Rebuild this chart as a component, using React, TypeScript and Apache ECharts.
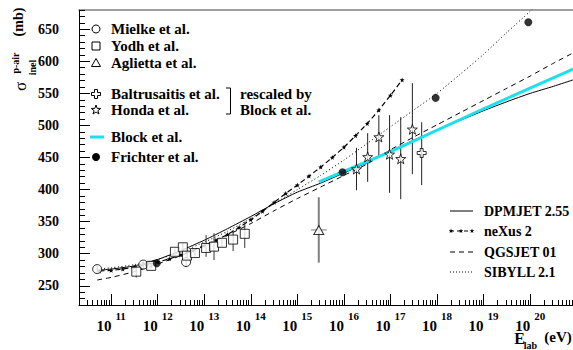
import React, { useEffect, useRef } from "react";
import * as echarts from "echarts";

const SERIF = "'Liberation Serif', 'DejaVu Serif', serif";

// Axis ranges (log10 of E in eV on x)
const X_MIN = 10.31;
const X_MAX = 20.92;
const Y_MIN = 220;
const Y_MAX = 680;
const xMajorTicks = [11, 12, 13, 14, 15, 16, 17, 18, 19, 20];
const yMajorTicks = [250, 300, 350, 400, 450, 500, 550, 600, 650];

// Mielke et al. (open circles)
const mielkeLogE = [10.7, 11.69, 12.61];
const mielkeSigma = [276, 283, 287];
const mielkeLo = [270, 278, 279];
const mielkeHi = [282, 288, 295];

// Yodh et al. (open squares)
const yodhLogE = [11.54, 11.86, 12.37, 12.54, 12.63, 12.8, 13.04, 13.21, 13.38, 13.62, 13.87];
const yodhSigma = [272, 281, 303, 310, 297, 301, 309, 311, 317, 322, 331];
const yodhLo = [263, 277, 298, 303, 291, 296, 295, 290, 311, 304, 309];
const yodhHi = [281, 285, 308, 317, 303, 306, 329, 332, 323, 337, 350];

// Aglietta et al. (open triangle)
const agliettaLogE = [15.46];
const agliettaSigma = [337];
const agliettaLo = [286];
const agliettaHi = [388];
const agliettaXLo = [15.29];
const agliettaXHi = [15.63];

// Baltrusaitis et al. (open cross)
const baltLogE = [17.67];
const baltSigma = [457];
const baltLo = [407];
const baltHi = [505];

// Honda et al. (open stars)
const hondaLogE = [16.27, 16.51, 16.75, 16.98, 17.22, 17.47];
const hondaSigma = [432, 451, 482, 455, 448, 494];
const hondaLo = [399, 412, 451, 395, 385, 424];
const hondaHi = [465, 488, 516, 516, 513, 566];

// Frichter et al. (filled circles)
const frichterLogE = [11.98, 15.97, 17.97, 19.96];
const frichterSigma = [285, 427, 543, 661];

// Block et al. (cyan)
const blockLogE = [15.46, 17.0, 19.0, 20.92];
const blockSigma = [412, 459, 526, 588];

// DPMJET 2.55
const dpmLogE = [10.7, 11, 11.5, 12, 12.5, 13, 13.5, 14, 14.5, 15, 15.5, 16, 16.5, 17, 17.5, 18, 18.5, 19, 19.5, 20, 20.5, 20.92];
const dpmSigma = [274, 276, 281, 291, 305, 321, 339, 358, 378, 396, 410, 426, 442, 460, 477, 493, 508, 523, 537, 550, 561, 571];

// QGSJET 01
const qgsLogE = [10.7, 11, 11.5, 12, 12.5, 13, 13.5, 14, 14.5, 15, 15.5, 16, 16.5, 17, 17.5, 18, 18.5, 19, 19.5, 20, 20.5, 20.92];
const qgsSigma = [259, 263, 272, 284, 297, 312, 329, 347, 367, 386, 404, 422, 440, 462, 482, 501, 520, 539, 558, 577, 597, 613];

// SIBYLL 2.1
const sibLogE = [10.7, 11, 11.5, 12, 12.5, 13, 13.5, 14, 14.5, 15, 15.5, 16, 16.5, 17, 17.5, 18, 18.5, 19, 19.5, 20, 20.2];
const sibSigma = [276, 278, 283, 291, 303, 318, 335, 355, 378, 400, 422, 446, 472, 498, 524, 550, 580, 611, 645, 678, 692];

// neXus 2
const nexLogE = [10.75, 11, 11.25, 11.5, 11.75, 12, 12.25, 12.5, 12.75, 13, 13.25, 13.5, 13.75, 14, 14.25, 14.5, 14.75, 15, 15.25, 15.5, 15.75, 16, 16.25, 16.5, 16.75, 17, 17.25];
const nexSigma = [273, 274, 276, 279, 283, 287, 292, 298, 305, 313, 321, 330, 341, 353, 366, 380, 394, 407, 421, 435, 450, 466, 484, 503, 524, 547, 571];

const STAR_PATH =
  "path://M0,-10L2.35,-3.24L9.51,-3.09L3.8,1.24L5.88,8.09L0,4L-5.88,8.09L-3.8,1.24L-9.51,-3.09L-2.35,-3.24Z";
const PLUS_PATH = "path://M-1,-3L1,-3L1,-1L3,-1L3,1L1,1L1,3L-1,3L-1,1L-3,1L-3,-1L-1,-1Z";

const zip = (xs: number[], ys: number[]) => xs.map((x, i) => [x, ys[i]]);

function errorBars(
  xs: number[], ys: number[], lo: number[], hi: number[], color: string, width: number,
  xlo?: number[], xhi?: number[]
) {
  return {
    type: "custom",
    silent: true,
    z: 3,
    clip: true,
    data: xs.map((x, i) => [x, ys[i], lo[i], hi[i], xlo ? xlo[i] : x, xhi ? xhi[i] : x]),
    renderItem: (_p: any, api: any) => {
      const x = api.value(0), y = api.value(1), l = api.value(2), h = api.value(3);
      const a = api.value(4), b = api.value(5);
      const p1 = api.coord([x, l]);
      const p2 = api.coord([x, h]);
      const children: any[] = [
        { type: "line", shape: { x1: p1[0], y1: p1[1], x2: p2[0], y2: p2[1] }, style: { stroke: color, lineWidth: width } },
      ];
      if (a !== b) {
        const q1 = api.coord([a, y]);
        const q2 = api.coord([b, y]);
        children.push({ type: "line", shape: { x1: q1[0], y1: q1[1], x2: q2[0], y2: q2[1] }, style: { stroke: color, lineWidth: 1 } });
      }
      return { type: "group", children };
    },
  };
}

function starPoints(cx: number, cy: number, r: number) {
  const pts: number[][] = [];
  for (let i = 0; i < 10; i++) {
    const ang = -Math.PI / 2 + (i * Math.PI) / 5;
    const rr = i % 2 === 0 ? r : r * 0.4;
    pts.push([cx + rr * Math.cos(ang), cy + rr * Math.sin(ang)]);
  }
  return pts;
}
function plusPoints(cx: number, cy: number, s: number) {
  const u = s / 3;
  const rel = [[-1, -3], [1, -3], [1, -1], [3, -1], [3, 1], [1, 1], [1, 3], [-1, 3], [-1, 1], [-3, 1], [-3, -1], [-1, -1]];
  return rel.map(([a, b]) => [cx + a * u, cy + b * u]);
}

const txt = (x: number, y: number, text: string, size: number, extra: any = {}) => ({
  type: "text",
  x,
  y,
  z: 10,
  rotation: extra.rotation || 0,
  style: {
    text,
    fill: "#000",
    font: `${extra.weight || "bold"} ${size}px ${SERIF}`,
    align: extra.align || "left",
    verticalAlign: "middle",
  },
});

export default function App() {
  const ref = useRef<HTMLDivElement>(null);
  useEffect(() => {
    if (!ref.current) return;
    const chart = echarts.init(ref.current, undefined, { renderer: "svg" });

    const xMinor: number[] = [];
    for (let n = 10; n <= 20; n++) {
      for (let k = 2; k <= 9; k++) {
        const v = n + Math.log10(k);
        if (v > X_MIN && v < X_MAX) xMinor.push(v);
      }
    }
    const yMinor: number[] = [];
    for (let v = 230; v <= 680; v += 10) if (v % 50 !== 0) yMinor.push(v);

    const lx = 96;
    const leftRows = { mielke: 29, yodh: 46, aglietta: 63, balt: 94, honda: 110, block: 137, frichter: 157 };
    const rx1 = 450, rx2 = 473, rtx = 484;
    const rRows = [211, 231, 252, 272];

    const graphic: any[] = [
      // left legend markers
      { type: "circle", z: 10, shape: { cx: lx, cy: leftRows.mielke, r: 4 }, style: { fill: "#fff", stroke: "#000", lineWidth: 1 } },
      { type: "rect", z: 10, shape: { x: lx - 4, y: leftRows.yodh - 4, width: 8, height: 8 }, style: { fill: "#fff", stroke: "#000", lineWidth: 1 } },
      { type: "polygon", z: 10, shape: { points: [[lx, leftRows.aglietta - 4.5], [lx + 4.5, leftRows.aglietta + 3.5], [lx - 4.5, leftRows.aglietta + 3.5]] }, style: { fill: "#fff", stroke: "#000", lineWidth: 1 } },
      { type: "polygon", z: 10, shape: { points: plusPoints(lx, leftRows.balt, 4.5) }, style: { fill: "#fff", stroke: "#000", lineWidth: 1 } },
      { type: "polygon", z: 10, shape: { points: starPoints(lx, leftRows.honda, 5) }, style: { fill: "#fff", stroke: "#000", lineWidth: 1 } },
      { type: "line", z: 10, shape: { x1: 90, y1: leftRows.block, x2: 104, y2: leftRows.block }, style: { stroke: "#18e2ee", lineWidth: 3 } },
      { type: "circle", z: 10, shape: { cx: lx, cy: leftRows.frichter, r: 4 }, style: { fill: "#000" } },
      txt(111, leftRows.mielke, "Mielke et al.", 15),
      txt(111, leftRows.yodh, "Yodh et al.", 15),
      txt(111, leftRows.aglietta, "Aglietta et al.", 15),
      txt(111, leftRows.balt, "Baltrusaitis et al.", 15),
      txt(111, leftRows.honda, "Honda et al.", 15),
      txt(111, leftRows.block, "Block et al.", 15),
      txt(111, leftRows.frichter, "Frichter et al.", 15),
      { type: "polyline", z: 10, shape: { points: [[226, 88], [230.5, 88], [230.5, 114], [226, 114]] }, style: { stroke: "#000", lineWidth: 1, fill: "none" } },
      txt(240, leftRows.balt, "rescaled by", 15),
      txt(240, leftRows.honda, "Block et al.", 15),
      // right legend
      { type: "line", z: 10, shape: { x1: rx1, y1: rRows[0], x2: rx2, y2: rRows[0] }, style: { stroke: "#000", lineWidth: 1 } },
      { type: "line", z: 10, shape: { x1: rx1, y1: rRows[1], x2: rx2, y2: rRows[1] }, style: { stroke: "#000", lineWidth: 1, lineDash: [4, 3] } },
      { type: "polygon", z: 10, shape: { points: starPoints(451, rRows[1], 2.5) }, style: { fill: "#000" } },
      { type: "polygon", z: 10, shape: { points: starPoints(461, rRows[1], 2.5) }, style: { fill: "#000" } },
      { type: "polygon", z: 10, shape: { points: starPoints(472, rRows[1], 2.5) }, style: { fill: "#000" } },
      { type: "line", z: 10, shape: { x1: rx1, y1: rRows[2], x2: rx2, y2: rRows[2] }, style: { stroke: "#000", lineWidth: 1, lineDash: [5, 4] } },
      { type: "line", z: 10, shape: { x1: rx1, y1: rRows[3], x2: rx2, y2: rRows[3] }, style: { stroke: "#000", lineWidth: 1, lineDash: [1, 2] } },
      txt(rtx, rRows[0], "DPMJET 2.55", 14),
      txt(rtx, rRows[1], "neXus 2", 14),
      txt(rtx, rRows[2], "QGSJET 01", 14),
      txt(rtx, rRows[3], "SIBYLL 2.1", 14),
      // y axis title (rotated)
      txt(20, 86.5, "σ", 17, { rotation: Math.PI / 2, align: "center", weight: "normal" }),
      txt(15.5, 63, "p-air", 10, { rotation: Math.PI / 2, align: "center" }),
      txt(32, 67.5, "inel", 10, { rotation: Math.PI / 2, align: "center" }),
      txt(18, 22, "(mb)", 14, { rotation: Math.PI / 2, align: "center" }),
      // x axis title
      txt(519.5, 338, "E", 16, { align: "center" }),
      txt(530.5, 345.5, "lab", 10, { align: "center" }),
      txt(558, 337, "(eV)", 15, { align: "center" }),
    ];

    const option: any = {
      animation: false,
      backgroundColor: "#fff",
      grid: { left: 79, right: 0, top: 10, bottom: 45, containLabel: false },
      xAxis: [
        {
          type: "value",
          min: X_MIN,
          max: X_MAX,
          position: "bottom",
          axisLine: { show: true, onZero: false, lineStyle: { color: "#000", width: 1 } },
          axisTick: { show: true, inside: true, length: 11, customValues: xMajorTicks, lineStyle: { color: "#000" } },
          axisLabel: {
            show: true,
            customValues: xMajorTicks,
            margin: 5,
            formatter: (v: number) => `{b|10}{s|${Math.round(v)}}`,
            rich: {
              b: { fontSize: 15, fontWeight: "bold", fontFamily: SERIF, color: "#000", lineHeight: 23, verticalAlign: "bottom" },
              s: { fontSize: 11, fontWeight: "bold", fontFamily: SERIF, color: "#000", lineHeight: 12, verticalAlign: "top", padding: [0, 0, 0, 4] },
            },
          },
          splitLine: { show: false },
        },
        {
          type: "value",
          min: X_MIN,
          max: X_MAX,
          position: "bottom",
          offset: 0,
          axisLine: { show: false, onZero: false },
          axisTick: { show: true, inside: true, length: 5, customValues: xMinor, lineStyle: { color: "#000" } },
          axisLabel: { show: false },
          splitLine: { show: false },
        },
        {
          type: "value",
          min: X_MIN,
          max: X_MAX,
          position: "top",
          offset: 0,
          axisLine: { show: true, onZero: false, lineStyle: { color: "#808080", width: 1.5 } },
          axisTick: { show: false },
          axisLabel: { show: false },
          splitLine: { show: false },
        },
      ],
      yAxis: [
        {
          type: "value",
          min: Y_MIN,
          max: Y_MAX,
          position: "left",
          axisLine: { show: true, onZero: false, lineStyle: { color: "#000", width: 1 } },
          axisTick: { show: true, inside: true, length: 11, customValues: yMajorTicks, lineStyle: { color: "#000" } },
          axisLabel: {
            show: true,
            customValues: yMajorTicks,
            margin: 20,
            fontSize: 14,
            fontWeight: "bold",
            fontFamily: SERIF,
            color: "#000",
          },
          splitLine: { show: false },
        },
        {
          type: "value",
          min: Y_MIN,
          max: Y_MAX,
          position: "left",
          offset: 0,
          axisLine: { show: false, onZero: false },
          axisTick: { show: true, inside: true, length: 6, customValues: yMinor, lineStyle: { color: "#000" } },
          axisLabel: { show: false },
          splitLine: { show: false },
        },
      ],
      series: [
        {
          name: "SIBYLL 2.1", type: "line", data: zip(sibLogE, sibSigma), showSymbol: false, smooth: 0.2, z: 2,
          lineStyle: { color: "#000", width: 1, type: [1, 2.5] },
        },
        {
          name: "QGSJET 01", type: "line", data: zip(qgsLogE, qgsSigma), showSymbol: false, smooth: 0.2, z: 2,
          lineStyle: { color: "#000", width: 1, type: [5, 4] },
        },
        {
          name: "DPMJET 2.55", type: "line", data: zip(dpmLogE, dpmSigma), showSymbol: false, smooth: 0.2, z: 2,
          lineStyle: { color: "#000", width: 1 },
        },
        {
          name: "neXus 2", type: "line", data: zip(nexLogE, nexSigma), showSymbol: true, symbol: STAR_PATH, symbolSize: 5, smooth: 0.2, z: 2,
          lineStyle: { color: "#000", width: 1.2, type: [5, 3] }, itemStyle: { color: "#000" },
        },
        {
          name: "Block et al.", type: "line", data: zip(blockLogE, blockSigma), showSymbol: false, z: 3,
          lineStyle: { color: "#18e2ee", width: 3 },
        },
        errorBars(mielkeLogE, mielkeSigma, mielkeLo, mielkeHi, "#333", 1),
        errorBars(yodhLogE, yodhSigma, yodhLo, yodhHi, "#333", 1),
        errorBars(agliettaLogE, agliettaSigma, agliettaLo, agliettaHi, "#808080", 2, agliettaXLo, agliettaXHi),
        errorBars(baltLogE, baltSigma, baltLo, baltHi, "#222", 1),
        errorBars(hondaLogE, hondaSigma, hondaLo, hondaHi, "#222", 1),
        {
          name: "Mielke et al.", type: "scatter", data: zip(mielkeLogE, mielkeSigma), symbol: "circle", symbolSize: 9, z: 5,
          itemStyle: { color: "#fff", borderColor: "#000", borderWidth: 1 },
        },
        {
          name: "Yodh et al.", type: "scatter", data: zip(yodhLogE, yodhSigma), symbol: "rect", symbolSize: 9, z: 5,
          itemStyle: { color: "#fff", borderColor: "#000", borderWidth: 1 },
        },
        {
          name: "Aglietta et al.", type: "scatter", data: zip(agliettaLogE, agliettaSigma), symbol: "triangle", symbolSize: [10, 9], z: 5,
          itemStyle: { color: "#fff", borderColor: "#000", borderWidth: 1 },
        },
        {
          name: "Baltrusaitis et al.", type: "scatter", data: zip(baltLogE, baltSigma), symbol: PLUS_PATH, symbolSize: 9, z: 5,
          itemStyle: { color: "#fff", borderColor: "#000", borderWidth: 1 },
        },
        {
          name: "Honda et al.", type: "scatter", data: zip(hondaLogE, hondaSigma), symbol: STAR_PATH, symbolSize: 10, z: 5,
          itemStyle: { color: "#fff", borderColor: "#000", borderWidth: 1 },
        },
        {
          name: "Frichter et al.", type: "scatter", data: zip(frichterLogE, frichterSigma), symbol: "circle", symbolSize: 8, z: 5,
          itemStyle: { color: "#000" },
        },
      ],
      graphic,
    };
    chart.setOption(option);
    return () => chart.dispose();
  }, []);

  return (
    <div
      ref={ref}
      style={{ position: "fixed", left: 0, top: 0, width: 573, height: 350, background: "#fff" }}
    />
  );
}
